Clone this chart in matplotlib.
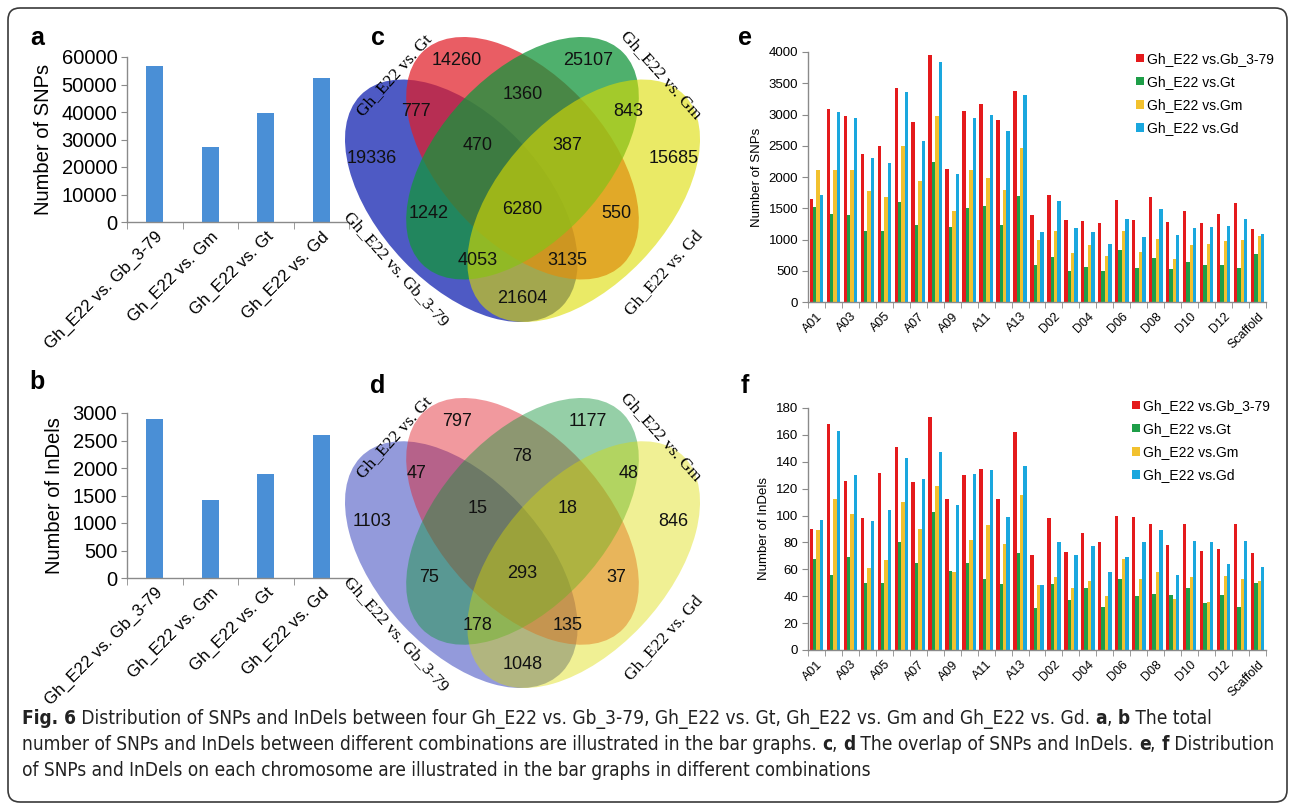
import matplotlib
matplotlib.use("Agg")
import matplotlib.pyplot as plt
import numpy as np
from matplotlib.patches import Ellipse, FancyBboxPatch
from matplotlib.transforms import IdentityTransform
from matplotlib import font_manager

W, H = 1295, 810

# ---------------- data ----------------
pair_labels = ["Gh_E22 vs. Gb_3-79", "Gh_E22 vs. Gm", "Gh_E22 vs. Gt", "Gh_E22 vs. Gd"]
snp_totals = [56897, 27219, 39742, 52537]
indel_totals = [2894, 1420, 1882, 2603]

# venn region keys: B=Gb_3-79, T=Gt, M=Gm, D=Gd
venn_keys = ["T", "M", "BT", "TM", "MD", "B", "BTM", "TMD", "D",
             "BM", "BTMD", "TD", "BMD", "BTD", "BD"]
venn_snp = [14260, 25107, 777, 1360, 843, 19336, 470, 387, 15685,
            1242, 6280, 550, 4053, 3135, 21604]
venn_indel = [797, 1177, 47, 78, 48, 1103, 15, 18, 846,
              75, 293, 37, 178, 135, 1048]
venn_set_names = ["Gh_E22 vs. Gb_3-79", "Gh_E22 vs. Gt", "Gh_E22 vs. Gm", "Gh_E22 vs. Gd"]

chroms = ["A01", "A02", "A03", "A04", "A05", "A06", "A07", "A08", "A09",
          "A10", "A11", "A12", "A13", "D01", "D02", "D03", "D04", "D05",
          "D06", "D07", "D08", "D09", "D10", "D11", "D12", "D13", "Scaffold"]
series_names = ["Gh_E22 vs.Gb_3-79", "Gh_E22 vs.Gt", "Gh_E22 vs.Gm", "Gh_E22 vs.Gd"]

snp_gb = [1650, 3090, 2975, 2370, 2490, 3420, 2885, 3960, 2135, 3050, 3175, 2920, 3380,
          1400, 1710, 1305, 1295, 1265, 1635, 1320, 1685, 1280, 1450, 1265, 1405, 1585, 1175]
snp_gt = [1520, 1410, 1385, 1140, 1130, 1600, 1235, 2245, 1205, 1505, 1530, 1240, 1690,
          600, 725, 500, 555, 500, 825, 545, 705, 530, 640, 590, 600, 550, 770]
snp_gm = [2120, 2120, 2115, 1770, 1680, 2500, 1940, 2970, 1450, 2120, 1980, 1790, 2470,
          1000, 1135, 780, 915, 740, 1135, 800, 1015, 690, 920, 925, 975, 1000, 1050]
snp_gd = [1710, 3040, 2940, 2310, 2220, 3355, 2580, 3835, 2045, 2940, 2995, 2730, 3310,
          1115, 1620, 1180, 1120, 930, 1325, 1045, 1495, 1065, 1185, 1200, 1215, 1335, 1090]

indel_gb = [90, 168, 126, 98, 132, 151, 125, 173, 112, 130, 135, 112, 162,
            71, 98, 73, 87, 80, 100, 99, 94, 78, 94, 74, 75, 94, 72]
indel_gt = [68, 56, 69, 50, 50, 80, 65, 103, 59, 65, 53, 49, 72,
            31, 49, 37, 46, 32, 53, 40, 42, 41, 46, 35, 41, 32, 50]
indel_gm = [89, 112, 101, 61, 67, 110, 90, 122, 58, 82, 93, 79, 115,
            48, 54, 46, 51, 40, 68, 53, 58, 38, 54, 36, 55, 53, 51]
indel_gd = [97, 163, 130, 96, 104, 143, 127, 147, 108, 131, 134, 99, 137,
            48, 80, 71, 77, 58, 69, 80, 89, 56, 81, 80, 64, 81, 62]

# ---------------- style ----------------
SANS = "Liberation Sans"
SERIF = "Liberation Serif"
BAR_BLUE = "#4a8fd6"
SER_COLORS = ["#e41a1c", "#1e9e48", "#f2c12e", "#1aa7de"]
AXIS_GRAY = "#8a8a8a"

plt.rcParams["font.family"] = [SANS, "DejaVu Sans"]

fig = plt.figure(figsize=(W / 100, H / 100), dpi=100)


def rect(l, t, r, b):
    return [l / W, 1 - b / H, (r - l) / W, (b - t) / H]


def style_axes(ax, tick_size):
    for s in ["top", "right"]:
        ax.spines[s].set_visible(False)
    for s in ["left", "bottom"]:
        ax.spines[s].set_color(AXIS_GRAY)
        ax.spines[s].set_linewidth(1.0)
    ax.tick_params(axis="y", direction="out", length=4, color=AXIS_GRAY,
                   labelsize=tick_size, pad=3)


def total_bar(box, values, ylim, ystep, ylabel):
    ax = fig.add_axes(rect(*box))
    x = np.arange(len(values))
    ax.bar(x, values, width=0.31, color=BAR_BLUE)
    ax.set_xlim(-0.5, len(values) - 0.5)
    ax.set_ylim(0, ylim)
    ax.set_yticks(np.arange(0, ylim + 1, ystep))
    style_axes(ax, 14.5)
    ax.set_xticks(x)
    ax.set_xticklabels(pair_labels, rotation=45, ha="right",
                       rotation_mode="anchor", fontsize=12.2)
    ax.set_xticks(np.arange(-0.5, len(values)), minor=True)
    ax.tick_params(axis="x", which="major", length=0, pad=5)
    ax.tick_params(axis="x", which="minor", length=5, color=AXIS_GRAY)
    ax.set_ylabel(ylabel, fontsize=14.5, labelpad=6)
    return ax


def chrom_bar(box, series, ylim, ystep, ylabel, legend_anchor):
    ax = fig.add_axes(rect(*box))
    x = np.arange(len(chroms))
    w = 0.2
    for i, vals in enumerate(series):
        ax.bar(x + (i - 1.5) * w, vals, width=w, color=SER_COLORS[i],
               label=series_names[i])
    ax.set_xlim(-0.5, len(chroms) - 0.5)
    ax.set_ylim(0, ylim)
    ax.set_yticks(np.arange(0, ylim + 1, ystep))
    style_axes(ax, 9.5)
    ax.set_xticks(x[::2])
    ax.set_xticklabels(chroms[::2], rotation=45, ha="right",
                       rotation_mode="anchor", fontsize=9)
    ax.set_xticks(np.arange(-0.5, len(chroms)), minor=True)
    ax.tick_params(axis="x", which="major", length=0, pad=6)
    ax.tick_params(axis="x", which="minor", length=4, color=AXIS_GRAY)
    ax.set_ylabel(ylabel, fontsize=9.5, labelpad=4)
    ax.legend(loc="upper left", bbox_to_anchor=legend_anchor,
              bbox_transform=fig.transFigure, frameon=False, fontsize=10,
              handlelength=0.55, handleheight=0.55, handletextpad=0.25,
              labelspacing=0.66, borderaxespad=0, borderpad=0)
    return ax


# venn geometry in unit coordinates (y up)
ELL = [((0.35, 0.47), -45), ((0.50, 0.57), -45), ((0.50, 0.57), 45), ((0.65, 0.47), 45)]
VENN_BASE = ["#1020b0", "#e11e28", "#14963c", "#dcdc00"]
VENN_POS = {
    "T": (0.34, 0.80), "M": (0.66, 0.80), "BT": (0.24, 0.68), "TM": (0.50, 0.72),
    "MD": (0.76, 0.68), "B": (0.13, 0.57), "BTM": (0.39, 0.60), "TMD": (0.61, 0.60),
    "D": (0.87, 0.57), "BM": (0.27, 0.44), "BTMD": (0.50, 0.45), "TD": (0.73, 0.44),
    "BMD": (0.39, 0.33), "BTD": (0.61, 0.33), "BD": (0.50, 0.24),
}
NAME_POS = [((0.19, 0.31), -48), ((0.185, 0.765), 48), ((0.84, 0.765), -48), ((0.845, 0.30), 48)]


def venn(box, counts, alphas):
    ax = fig.add_axes(rect(*box))
    ax.set_xlim(0.065, 0.935)
    ax.set_ylim(0.185, 0.855)
    ax.axis("off")
    for (c, ang), col, al in zip(ELL, VENN_BASE, alphas):
        ax.add_patch(Ellipse(c, 0.70, 0.40, angle=ang, facecolor=col,
                             edgecolor="none", alpha=al))
    for key, val in zip(venn_keys, counts):
        px, py = VENN_POS[key]
        ax.text(px, py, str(val), ha="center", va="center", fontsize=13,
                color="#111111")
    for name, ((px, py), rot) in zip(venn_set_names, NAME_POS):
        ax.text(px, py, name, ha="center", va="center", rotation=rot,
                fontsize=12.5, family=SERIF, clip_on=False)
    return ax


total_bar((127, 57, 349, 222), snp_totals, 60000, 10000, "Number of SNPs")
total_bar((127, 413, 349, 578), indel_totals, 3000, 500, "Number of InDels")

venn((345, 37, 700, 322), venn_snp, [0.74, 0.72, 0.75, 0.6])
venn((345, 398, 700, 688), venn_indel, [0.45, 0.45, 0.45, 0.42])

chrom_bar((808, 52, 1266, 302), [snp_gb, snp_gt, snp_gm, snp_gd], 4000, 500,
          "Number of SNPs", (1136 / W, 1 - 52 / H))
chrom_bar((808, 408, 1266, 650), [indel_gb, indel_gt, indel_gm, indel_gd], 180, 20,
          "Number of InDels", (1132 / W, 1 - 399 / H))

# panel letters
for letter, (px, py) in zip("abcdef", [(37, 38), (37, 382), (378, 38), (378, 386),
                                        (745, 38), (745, 386)]):
    fig.text(px / W, 1 - py / H, letter, fontsize=18, fontweight="bold",
             ha="center", va="center", family=SANS)

# frame
fig.patches.append(FancyBboxPatch((8, 8), W - 16, H - 16,
                                  boxstyle="round,pad=0,rounding_size=12",
                                  transform=IdentityTransform(), fill=False,
                                  edgecolor="#3a3a3a", linewidth=1.2))

# caption
try:
    font_manager.findfont("Liberation Sans Narrow", fallback_to_default=False)
    CAP_FAMILY, CAP_STRETCH = "Liberation Sans Narrow", "normal"
except Exception:
    CAP_FAMILY, CAP_STRETCH = "DejaVu Sans", "condensed"

cap_lines = [
    [("Fig. 6", True), (" Distribution of SNPs and InDels between four Gh_E22 vs. Gb_3-79, "
                        "Gh_E22 vs. Gt, Gh_E22 vs. Gm and Gh_E22 vs. Gd. ", False),
     ("a", True), (", ", False), ("b", True), (" The total", False)],
    [("number of SNPs and InDels between different combinations are illustrated in the "
      "bar graphs. ", False), ("c", True), (", ", False), ("d", True),
     (" The overlap of SNPs and InDels. ", False), ("e", True), (", ", False),
     ("f", True), (" Distribution", False)],
    [("of SNPs and InDels on each chromosome are illustrated in the bar graphs in "
      "different combinations", False)],
]
renderer = fig.canvas.get_renderer()


def seg_width(txt, bold, size):
    kw = dict(fontsize=size, fontweight="bold" if bold else "normal",
              family=CAP_FAMILY, fontstretch=CAP_STRETCH)
    t1 = fig.text(0, 0, "|" + txt + "|", **kw)
    t2 = fig.text(0, 0, "||", **kw)
    w = t1.get_window_extent(renderer).width - t2.get_window_extent(renderer).width
    t1.remove()
    t2.remove()
    return w


ref = sum(seg_width(t, b, 10) for t, b in cap_lines[1])
cap_size = 10 * 1256 / ref
for line, py in zip(cap_lines, [719, 745, 771]):
    px = 22
    for txt, bold in line:
        fig.text(px / W, 1 - py / H, txt, fontsize=cap_size,
                 fontweight="bold" if bold else "normal", family=CAP_FAMILY,
                 fontstretch=CAP_STRETCH, ha="left", va="center", color="#222222")
        px += seg_width(txt, bold, cap_size)

fig.savefig("out.png", dpi=100)
